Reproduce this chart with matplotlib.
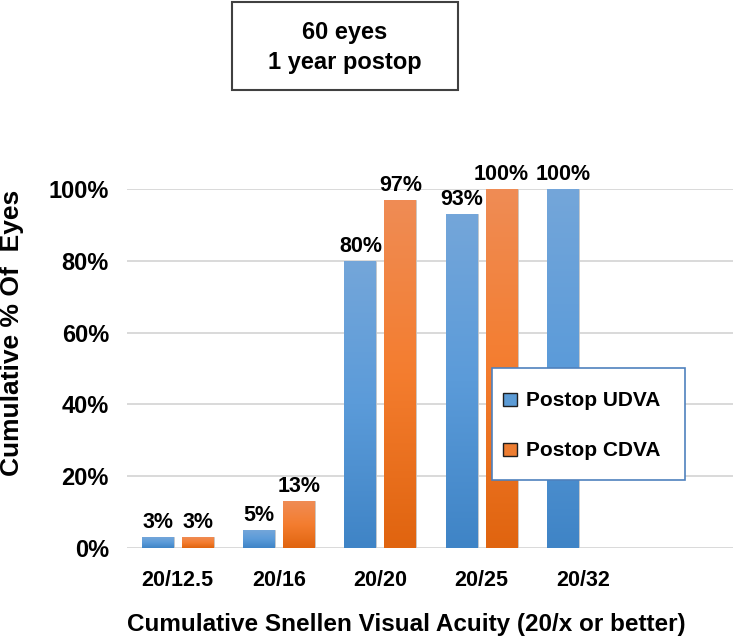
import numpy as np
import matplotlib
matplotlib.use("Agg")
import matplotlib.pyplot as plt
from matplotlib.colors import LinearSegmentedColormap
from matplotlib.patches import Rectangle

plt.rcParams['font.family'] = ['Liberation Sans', 'DejaVu Sans']
plt.rcParams['font.weight'] = 'bold'

categories = ['20/12.5', '20/16', '20/20', '20/25', '20/32']
udva = [3, 5, 80, 93, 100]
cdva = [3, 13, 97, 100, None]
series_names = ['Postop UDVA', 'Postop CDVA']
series_colors = ['#5B9BD5', '#ED7D31']

blue_cmap = LinearSegmentedColormap.from_list('b', ['#3F84C6', '#5B9BD9', '#74A6DA'])
orange_cmap = LinearSegmentedColormap.from_list('o', ['#E0640F', '#F47D2F', '#EF8C55'])

W, H = 735, 642
fig = plt.figure(figsize=(W/100, H/100), dpi=100)
ax = fig.add_axes([127/W, 1-548/H, (733-127)/W, (548-189)/H])

x = np.arange(len(categories))
w = 0.315
off = 0.197


def grad_bars(xs, vals, cmap, color):
    for xi, v in zip(xs, vals):
        if v is None:
            continue
        b = ax.bar(xi, v, w, color=color, edgecolor='#C8C8C8', linewidth=0.6, zorder=2)[0]
        grad = np.linspace(0, 1, 256).reshape(-1, 1)
        im = ax.imshow(grad, cmap=cmap, origin='lower', aspect='auto',
                       extent=[xi - w/2, xi + w/2, 0, v], zorder=3)
        im.set_clip_path(b)
        ax.annotate(f'{v}%', (xi, v), xytext=(0, 3), textcoords='offset points',
                    ha='center', va='bottom', fontsize=15.5, fontweight='bold',
                    annotation_clip=False, zorder=5)


grad_bars(x - off, udva, blue_cmap, series_colors[0])
grad_bars(x + off, cdva, orange_cmap, series_colors[1])

ax.set_xlim(-0.5, 5.48)
ax.set_ylim(0, 100)
ticks = [0, 20, 40, 60, 80, 100]
ax.set_yticks(ticks)
ax.set_yticklabels([f'{t}%' for t in ticks], fontsize=17, fontweight='bold')
ax.set_xticks(x)
ax.set_xticklabels(categories, fontsize=15.5, fontweight='bold')
ax.tick_params(length=0)
ax.tick_params(axis='y', pad=13)
ax.tick_params(axis='x', pad=16)
ax.grid(axis='y', color='#D9D9D9', linewidth=1.4, zorder=0)
ax.set_axisbelow(True)
for s in ax.spines.values():
    s.set_visible(False)

ax.set_ylabel('Cumulative % Of  Eyes', fontsize=19, fontweight='bold', va='center')
ax.yaxis.set_label_coords((12-127)/606, 0.6)
ax.set_xlabel('Cumulative Snellen Visual Acuity (20/x or better)', fontsize=17.5,
              fontweight='bold', va='center')
ax.xaxis.set_label_coords((406-127)/606, (548-625)/359)

# title box
fig.patches.append(Rectangle((232/W, 1-90/H), (458-232)/W, 88/H, transform=fig.transFigure,
                             facecolor='white', edgecolor='#404040', lw=1.5))
fig.text(345/W, 1-32/H, '60 eyes', ha='center', va='center', fontsize=17, fontweight='bold')
fig.text(345/W, 1-63/H, '1 year postop', ha='center', va='center', fontsize=17, fontweight='bold')

# legend
fig.patches.append(Rectangle((492/W, 1-480/H), (685-492)/W, 112/H, transform=fig.transFigure,
                             facecolor='white', edgecolor='#4F81BD', lw=1.2, zorder=10))
for i, (name, col) in enumerate(zip(series_names, series_colors)):
    yc = 400 + 50*i
    fig.patches.append(Rectangle((503/W, 1-(yc+6)/H), 14/W, 13/H, transform=fig.transFigure,
                                 facecolor=col, edgecolor='#1F1F1F', lw=1.0, zorder=11))
    fig.text(526/W, 1-yc/H, name, ha='left', va='center', fontsize=15, fontweight='bold',
             zorder=12)

fig.savefig('out.png', dpi=100)
